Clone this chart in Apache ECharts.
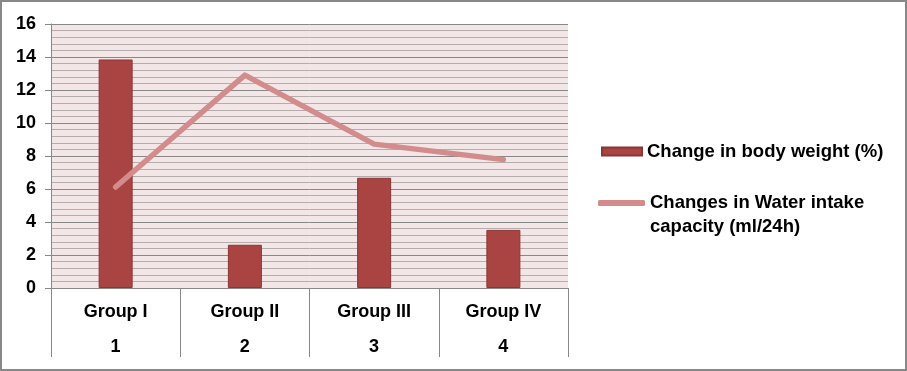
<!DOCTYPE html>
<html><head><meta charset="utf-8">
<script src="https://cdn.jsdelivr.net/npm/echarts@6/dist/echarts.min.js"></script>
<style>
html,body{margin:0;padding:0;background:#fff;}
#wrap{position:relative;width:907px;height:371px;}
#c{width:907px;height:371px;}
#frame{position:absolute;left:0;top:0;width:907px;height:371px;box-sizing:border-box;border:2px solid #888;pointer-events:none;}
</style></head>
<body><div id="wrap"><div id="c"></div><div id="frame"></div></div>
<script>
const groups = ['Group I', 'Group II', 'Group III', 'Group IV'];
const groupNums = ['1', '2', '3', '4'];
const bodyWeight = [13.85, 2.62, 6.68, 3.52];
const waterIntake = [6.12, 12.9, 8.72, 7.78];
const yTicks = [0, 2, 4, 6, 8, 10, 12, 14, 16];
const seriesNames = ['Change in body weight (%)', 'Changes in Water intake capacity (ml/24h)'];

const FONT = '"Liberation Sans", Arial, sans-serif';
const chart = echarts.init(document.getElementById('c'), null, {renderer: 'canvas'});
const cats = groups.map((g, i) => g + '|' + groupNums[i]);
chart.setOption({
  animation: false,
  grid: {left: 51, right: 339, top: 24, bottom: 79, show: true, backgroundColor: '#F2E6E6', borderWidth: 0},
  legend: [{
    data: [{name: seriesNames[0], icon: 'rect'}],
    left: 596, top: 137, itemWidth: 40, itemHeight: 8, itemGap: 5,
    textStyle: {fontFamily: FONT, fontWeight: 'bold', fontSize: 18.5, color: '#000'}
  }, {
    data: [{name: seriesNames[1], icon: 'roundRect'}],
    left: 593, top: 162, itemWidth: 47, itemHeight: 6, itemGap: 1,
    formatter: () => ' \nChanges in Water intake\ncapacity (ml/24h)',
    textStyle: {fontFamily: FONT, fontWeight: 'bold', fontSize: 18.5, color: '#000', lineHeight: 24}
  }],
  xAxis: {
    type: 'category', data: cats, boundaryGap: true,
    axisLine: {show: true, lineStyle: {color: '#888', width: 1}},
    axisTick: {show: true, length: 69, lineStyle: {color: '#888', width: 1}},
    axisLabel: {
      margin: 13, interval: 0,
      formatter: v => { const p = v.split('|'); return '{a|' + p[0] + '}\n{b|' + p[1] + '}'; },
      rich: {
        a: {fontFamily: FONT, fontWeight: 'bold', fontSize: 18, color: '#000', lineHeight: 22, height: 22},
        b: {fontFamily: FONT, fontWeight: 'bold', fontSize: 18, color: '#000', lineHeight: 48, height: 48}
      }
    }
  },
  yAxis: {
    type: 'value', min: 0, max: 16, interval: 2,
    axisLine: {show: true, lineStyle: {color: '#888', width: 1}},
    axisTick: {show: true, length: 6, lineStyle: {color: '#888'}},
    axisLabel: {margin: 15, fontFamily: FONT, fontWeight: 'bold', fontSize: 18, color: '#000',
      formatter: v => yTicks.includes(v) ? String(v) : ''},
    splitLine: {show: true, lineStyle: {color: '#888888', width: 1}},
    minorTick: {show: false, splitNumber: 5},
    minorSplitLine: {show: true, lineStyle: {color: '#b5adad', width: 1}}
  },
  series: [{
    name: seriesNames[0], type: 'bar', data: bodyWeight, barWidth: 34,
    itemStyle: {color: '#A94442', borderColor: '#8A3634', borderWidth: 1}
  }, {
    name: seriesNames[1], type: 'line', data: waterIntake, symbol: 'none',
    lineStyle: {color: '#D38C8C', width: 5.5, cap: 'round', join: 'round'},
    itemStyle: {color: '#D38C8C'}
  }]
});
</script></body></html>
